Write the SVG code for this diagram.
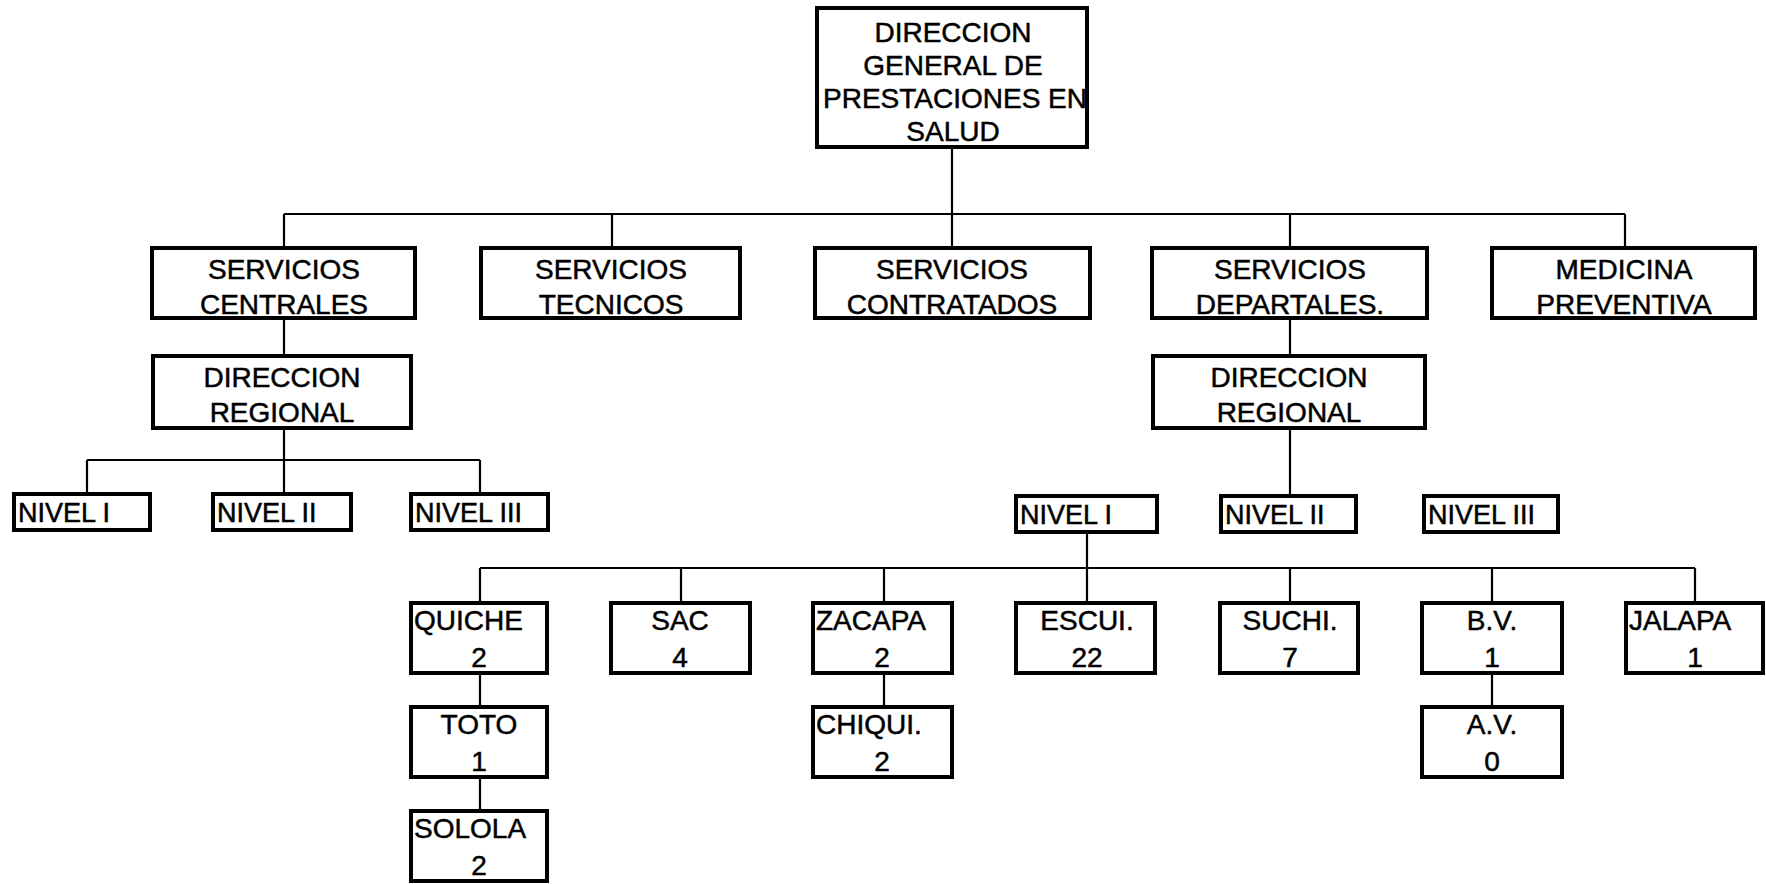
<svg xmlns="http://www.w3.org/2000/svg" width="1766" height="884" viewBox="0 0 1766 884">
<style>
.box{fill:#fff;stroke:#000;stroke-width:4}
.ln{fill:none;stroke:#000;stroke-width:2.2}
text{font-family:"Liberation Sans",Arial,sans-serif;fill:#000;stroke:#000;stroke-width:0.5}
.c{text-anchor:middle}
.t27{font-size:27px}
.t28{font-size:28px}
</style>
<rect width="1766" height="884" fill="#fff"/>
<g id="connectors">
<path class="ln" d="M952 147V214M284 214H1625M284 214V248M612 214V248M952 214V248M1290 214V248M1625 214V248"/>
<path class="ln" d="M284 318V356M284 428V494M87 460H480M87 460V494M480 460V494"/>
<path class="ln" d="M1290 318V356M1290 428V496"/>
<path class="ln" d="M1087 532V568M480 568H1695M480 568V603M681 568V603M884 568V603M1087 568V603M1290 568V603M1492 568V603M1695 568V603"/>
<path class="ln" d="M480 673V707M480 777V811M884 673V707M1492 673V707"/>
</g>
<g id="n-direccion-general"><rect class="box" x="817" y="8" width="270" height="139"/>
<text class="c t28" x="953" y="42">DIRECCION</text><text class="c t28" x="953" y="75">GENERAL DE</text><text class="c t28" x="955" y="108">PRESTACIONES EN</text><text class="c t28" x="953" y="141">SALUD</text></g>
<g id="n-serv-centrales"><rect class="box" x="152" y="248" width="263" height="70"/><text class="c t28" x="284" y="279">SERVICIOS</text><text class="c t28" x="284" y="314">CENTRALES</text></g>
<g id="n-serv-tecnicos"><rect class="box" x="481" y="248" width="259" height="70"/><text class="c t28" x="611" y="279">SERVICIOS</text><text class="c t28" x="611" y="314">TECNICOS</text></g>
<g id="n-serv-contratados"><rect class="box" x="815" y="248" width="275" height="70"/><text class="c t28" x="952" y="279">SERVICIOS</text><text class="c t28" x="952" y="314">CONTRATADOS</text></g>
<g id="n-serv-departales"><rect class="box" x="1152" y="248" width="275" height="70"/><text class="c t28" x="1290" y="279">SERVICIOS</text><text class="c t28" x="1290" y="314">DEPARTALES.</text></g>
<g id="n-medicina"><rect class="box" x="1492" y="248" width="263" height="70"/><text class="c t28" x="1624" y="279">MEDICINA</text><text class="c t28" x="1624" y="314">PREVENTIVA</text></g>
<g id="n-dir-regional-1"><rect class="box" x="153" y="356" width="258" height="72"/><text class="c t28" x="282" y="387">DIRECCION</text><text class="c t28" x="282" y="422">REGIONAL</text></g>
<g id="n-dir-regional-2"><rect class="box" x="1153" y="356" width="272" height="72"/><text class="c t28" x="1289" y="387">DIRECCION</text><text class="c t28" x="1289" y="422">REGIONAL</text></g>
<g id="n-nivel1-a"><rect class="box" x="14" y="494" width="136" height="36"/><text class="t27" x="18" y="522">NIVEL I</text></g>
<g id="n-nivel2-a"><rect class="box" x="213" y="494" width="138" height="36"/><text class="t27" x="217" y="522">NIVEL II</text></g>
<g id="n-nivel3-a"><rect class="box" x="411" y="494" width="137" height="36"/><text class="t27" x="415" y="522">NIVEL III</text></g>
<g id="n-nivel1-b"><rect class="box" x="1016" y="496" width="141" height="36"/><text class="t27" x="1020" y="524">NIVEL I</text></g>
<g id="n-nivel2-b"><rect class="box" x="1221" y="496" width="135" height="36"/><text class="t27" x="1225" y="524">NIVEL II</text></g>
<g id="n-nivel3-b"><rect class="box" x="1424" y="496" width="134" height="36"/><text class="t27" x="1428" y="524">NIVEL III</text></g>
<g id="n-quiche"><rect class="box" x="411" y="603" width="136" height="70"/><text class="t28" x="414" y="630">QUICHE</text><text class="c t28" x="479" y="667">2</text></g>
<g id="n-sac"><rect class="box" x="611" y="603" width="139" height="70"/><text class="c t28" x="680" y="630">SAC</text><text class="c t28" x="680" y="667">4</text></g>
<g id="n-zacapa"><rect class="box" x="813" y="603" width="139" height="70"/><text class="t28" x="816" y="630">ZACAPA</text><text class="c t28" x="882" y="667">2</text></g>
<g id="n-escui"><rect class="box" x="1016" y="603" width="139" height="70"/><text class="c t28" x="1087" y="630">ESCUI.</text><text class="c t28" x="1087" y="667">22</text></g>
<g id="n-suchi"><rect class="box" x="1220" y="603" width="138" height="70"/><text class="c t28" x="1290" y="630">SUCHI.</text><text class="c t28" x="1290" y="667">7</text></g>
<g id="n-bv"><rect class="box" x="1422" y="603" width="140" height="70"/><text class="c t28" x="1492" y="630">B.V.</text><text class="c t28" x="1492" y="667">1</text></g>
<g id="n-jalapa"><rect class="box" x="1626" y="603" width="137" height="70"/><text class="t28" x="1629" y="630">JALAPA</text><text class="c t28" x="1695" y="667">1</text></g>
<g id="n-toto"><rect class="box" x="411" y="707" width="136" height="70"/><text class="c t28" x="479" y="734">TOTO</text><text class="c t28" x="479" y="771">1</text></g>
<g id="n-chiqui"><rect class="box" x="813" y="707" width="139" height="70"/><text class="t28" x="816" y="734">CHIQUI.</text><text class="c t28" x="882" y="771">2</text></g>
<g id="n-av"><rect class="box" x="1422" y="707" width="140" height="70"/><text class="c t28" x="1492" y="734">A.V.</text><text class="c t28" x="1492" y="771">0</text></g>
<g id="n-solola"><rect class="box" x="411" y="811" width="136" height="70"/><text class="t28" x="414" y="838">SOLOLA</text><text class="c t28" x="479" y="875">2</text></g>
</svg>
